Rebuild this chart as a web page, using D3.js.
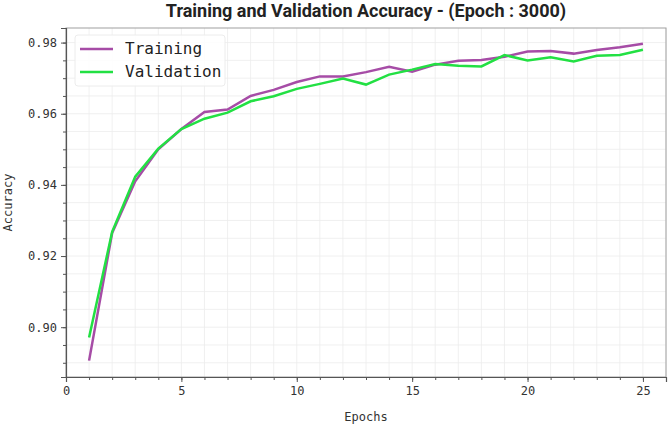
<!DOCTYPE html>
<html>
<head>
<meta charset="utf-8">
<script src="https://cdn.jsdelivr.net/npm/d3@7"></script>
<style>
  body { margin: 0; background: #fff; }
  svg { display: block; }
</style>
</head>
<body>
<svg id="chart"></svg>
<script>
const width = 669;
const height = 425;

const epochs = d3.range(1, 26);
const training = [0.8906, 0.9265, 0.9410, 0.9500, 0.9557, 0.9605, 0.9612, 0.9650, 0.9667, 0.9689,
    0.9705, 0.9705, 0.9717, 0.9732, 0.9718, 0.9738, 0.9749, 0.9751, 0.9760, 0.9775,
    0.9776, 0.9769, 0.9779, 0.9787, 0.9797];
const validation = [0.8971, 0.9268, 0.9423, 0.9502, 0.9557, 0.9586, 0.9603, 0.9635, 0.9649, 0.9670,
    0.9684, 0.9699, 0.9682, 0.9710, 0.9724, 0.9740, 0.9735, 0.9733, 0.9765, 0.9750,
    0.9759, 0.9747, 0.9763, 0.9765, 0.9780];
const xTicks = [0, 5, 10, 15, 20, 25];
const yTicks = [0.90, 0.92, 0.94, 0.96, 0.98];

const margin = {top: 28, right: 3, bottom: 48, left: 66};
const mono = "'DejaVu Sans Mono', monospace";

const svg = d3.select('#chart')
    .attr('width', width)
    .attr('height', height);

const x = d3.scaleLinear().domain([0, 26]).range([margin.left, width - margin.right]);
const y = d3.scaleLinear().domain([0.8860, 0.9841]).range([height - margin.bottom, margin.top]);

const xMinor = d3.range(0, 27, 1);
const yMinor = d3.range(0.890, 0.9841, 0.005);

// grid
const grid = svg.append('g');
grid.selectAll('.vx')
    .data(xMinor)
    .join('line')
    .attr('x1', d => x(d)).attr('x2', d => x(d))
    .attr('y1', margin.top).attr('y2', height - margin.bottom)
    .attr('stroke', '#ececec').attr('stroke-width', 0.8);
grid.selectAll('.hy')
    .data(yMinor)
    .join('line')
    .attr('y1', d => y(d)).attr('y2', d => y(d))
    .attr('x1', margin.left).attr('x2', width - margin.right)
    .attr('stroke', '#ececec').attr('stroke-width', 0.8);

// frame
svg.append('rect')
    .attr('x', margin.left).attr('y', margin.top)
    .attr('width', width - margin.left - margin.right)
    .attr('height', height - margin.top - margin.bottom)
    .attr('fill', 'none').attr('stroke', '#a0a0a0').attr('stroke-width', 1);

// axes
svg.append('g')
    .attr('transform', `translate(0,${height - margin.bottom})`)
    .call(d3.axisBottom(x).tickValues(xTicks).tickFormat(d3.format('d')).tickSize(5).tickPadding(4));
svg.append('g')
    .attr('transform', `translate(0,${height - margin.bottom})`)
    .call(d3.axisBottom(x).tickValues(xMinor).tickFormat('').tickSize(3))
    .call(g => g.select('.domain').remove());

svg.append('g')
    .attr('transform', `translate(${margin.left},0)`)
    .call(d3.axisLeft(y).tickValues(yTicks).tickFormat(d3.format('.2f')).tickSize(5).tickPadding(4));
svg.append('g')
    .attr('transform', `translate(${margin.left},0)`)
    .call(d3.axisLeft(y).tickValues(yMinor).tickFormat('').tickSize(3))
    .call(g => g.select('.domain').remove());

svg.selectAll('.domain').attr('stroke', '#555').attr('stroke-width', 1.2);
svg.selectAll('.tick line').attr('stroke', '#555');
svg.selectAll('.tick text')
    .attr('font-family', mono)
    .attr('font-size', 12)
    .attr('fill', '#333');

// lines
const line = d3.line()
    .x((d, i) => x(epochs[i]))
    .y(d => y(d));

svg.append('path')
    .datum(training)
    .attr('d', line)
    .attr('fill', 'none')
    .attr('stroke', '#a64ca6')
    .attr('stroke-width', 2.5);

svg.append('path')
    .datum(validation)
    .attr('d', line)
    .attr('fill', 'none')
    .attr('stroke', '#22e043')
    .attr('stroke-width', 2.5);

// legend
const legend = svg.append('g');
legend.append('rect')
    .attr('x', 75).attr('y', 35)
    .attr('width', 150).attr('height', 51)
    .attr('rx', 3)
    .attr('fill', '#fff').attr('fill-opacity', 0.85)
    .attr('stroke', '#ececec');
const items = [
    {label: 'Training', color: '#a64ca6'},
    {label: 'Validation', color: '#22e043'}
];
items.forEach((it, i) => {
    const cy = 49 + i * 23;
    legend.append('line')
        .attr('x1', 80).attr('x2', 113)
        .attr('y1', cy).attr('y2', cy)
        .attr('stroke', it.color).attr('stroke-width', 2.5);
    legend.append('text')
        .attr('x', 125).attr('y', cy + 5)
        .attr('font-family', mono)
        .attr('font-size', 16)
        .attr('fill', '#222')
        .text(it.label);
});

// title and labels
svg.append('text')
    .attr('x', (margin.left + width - margin.right) / 2)
    .attr('y', 17)
    .attr('text-anchor', 'middle')
    .attr('font-family', 'Roboto, sans-serif')
    .attr('font-weight', 700)
    .attr('font-size', 18)
    .attr('fill', '#222')
    .text('Training and Validation Accuracy - (Epoch : 3000)');

svg.append('text')
    .attr('x', (margin.left + width - margin.right) / 2)
    .attr('y', 421)
    .attr('text-anchor', 'middle')
    .attr('font-family', mono)
    .attr('font-size', 12)
    .attr('fill', '#333')
    .text('Epochs');

svg.append('text')
    .attr('transform', `translate(12,${(margin.top + height - margin.bottom) / 2}) rotate(-90)`)
    .attr('text-anchor', 'middle')
    .attr('font-family', mono)
    .attr('font-size', 12)
    .attr('fill', '#333')
    .text('Accuracy');
</script>
</body>
</html>
